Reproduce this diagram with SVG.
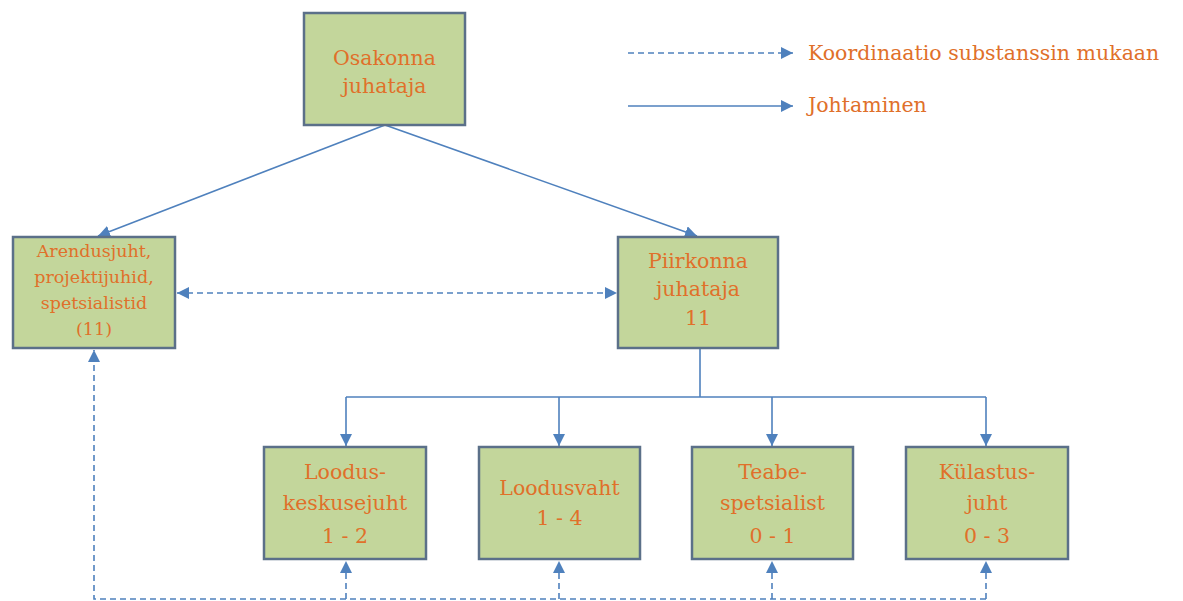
<svg xmlns="http://www.w3.org/2000/svg" width="1183" height="601" viewBox="0 0 1183 601">
  <style>
    .box { fill: #c3d69b; stroke: #5b7089; stroke-width: 2.5; }
    .lbl { font-family: "DejaVu Serif", "Liberation Serif", serif; fill: #e0702a; text-anchor: middle; }
    .big { font-size: 20.5px; }
    .sm { font-size: 17.5px; }
    .leg { font-family: "DejaVu Serif", "Liberation Serif", serif; fill: #e0702a; font-size: 20.5px; }
    .solid { fill: none; stroke: #4f81bd; stroke-width: 1.6; }
    .dash { fill: none; stroke: #4f81bd; stroke-width: 1.6; stroke-dasharray: 6 4; }
  </style>
  <defs>
    <marker id="arr" viewBox="0 0 12 12" refX="12" refY="6" markerWidth="12" markerHeight="12" markerUnits="userSpaceOnUse" orient="auto-start-reverse">
      <path d="M0,0 L12,6 L0,12 Z" fill="#4f81bd"/>
    </marker>
  </defs>
  <rect width="1183" height="601" fill="#ffffff"/>

  <!-- connectors -->
  <g id="connectors">
    <!-- management lines -->
    <line class="solid" x1="385" y1="125" x2="98" y2="236" marker-end="url(#arr)"/>
    <line class="solid" x1="385" y1="125" x2="697" y2="236" marker-end="url(#arr)"/>
    <polyline class="solid" points="700,348 700,397"/>
    <polyline class="solid" points="346,397 986,397"/>
    <line class="solid" x1="346" y1="397" x2="346" y2="446" marker-end="url(#arr)"/>
    <line class="solid" x1="559" y1="397" x2="559" y2="446" marker-end="url(#arr)"/>
    <line class="solid" x1="772" y1="397" x2="772" y2="446" marker-end="url(#arr)"/>
    <line class="solid" x1="986" y1="397" x2="986" y2="446" marker-end="url(#arr)"/>
    <!-- coordination lines -->
    <line class="dash" x1="177" y1="293" x2="617" y2="293" marker-start="url(#arr)" marker-end="url(#arr)"/>
    <polyline class="dash" points="986,599 94,599 94,350"/>
    <polygon points="94,350 88,362 100,362" fill="#4f81bd"/>
    <line class="dash" x1="346" y1="599" x2="346" y2="561" marker-end="url(#arr)"/>
    <line class="dash" x1="559" y1="599" x2="559" y2="561" marker-end="url(#arr)"/>
    <line class="dash" x1="772" y1="599" x2="772" y2="561" marker-end="url(#arr)"/>
    <line class="dash" x1="986" y1="599" x2="986" y2="561" marker-end="url(#arr)"/>
  </g>

  <!-- legend -->
  <g id="legend">
    <line class="dash" x1="628" y1="53" x2="793" y2="53" marker-end="url(#arr)"/>
    <text class="leg" x="808" y="60">Koordinaatio substanssin mukaan</text>
    <line class="solid" x1="628" y1="106" x2="793" y2="106" marker-end="url(#arr)"/>
    <text class="leg" x="808" y="112">Johtaminen</text>
  </g>

  <g id="osakonna">
    <rect class="box" x="304" y="13" width="161" height="112"/>
    <text class="lbl big" x="384.5" y="65">Osakonna</text>
    <text class="lbl big" x="384.5" y="93">juhataja</text>
  </g>

  <g id="arendusjuht">
    <rect class="box" x="13" y="237" width="162" height="111"/>
    <text class="lbl sm" x="94" y="257">Arendusjuht,</text>
    <text class="lbl sm" x="94" y="283">projektijuhid,</text>
    <text class="lbl sm" x="94" y="309">spetsialistid</text>
    <text class="lbl sm" x="94" y="335">(11)</text>
  </g>

  <g id="piirkonna">
    <rect class="box" x="618" y="237" width="160" height="111"/>
    <text class="lbl big" x="698" y="268">Piirkonna</text>
    <text class="lbl big" x="698" y="296">juhataja</text>
    <text class="lbl big" x="698" y="325">11</text>
  </g>

  <g id="loodus-keskusejuht">
    <rect class="box" x="264" y="447" width="162" height="112"/>
    <text class="lbl big" x="345" y="479">Loodus-</text>
    <text class="lbl big" x="345" y="510">keskusejuht</text>
    <text class="lbl big" x="345" y="543">1 - 2</text>
  </g>

  <g id="loodusvaht">
    <rect class="box" x="479" y="447" width="161" height="112"/>
    <text class="lbl big" x="559.5" y="495">Loodusvaht</text>
    <text class="lbl big" x="559.5" y="525">1 - 4</text>
  </g>

  <g id="teabespetsialist">
    <rect class="box" x="692" y="447" width="161" height="112"/>
    <text class="lbl big" x="772.5" y="479">Teabe-</text>
    <text class="lbl big" x="772.5" y="510">spetsialist</text>
    <text class="lbl big" x="772.5" y="543">0 - 1</text>
  </g>

  <g id="kulastusjuht">
    <rect class="box" x="906" y="447" width="162" height="112"/>
    <text class="lbl big" x="987" y="479">Külastus-</text>
    <text class="lbl big" x="987" y="510">juht</text>
    <text class="lbl big" x="987" y="543">0 - 3</text>
  </g>
</svg>
